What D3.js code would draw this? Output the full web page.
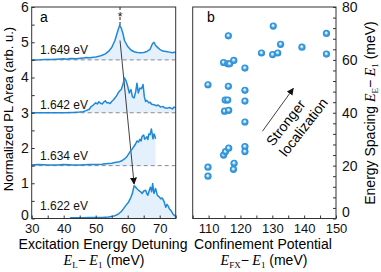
<!DOCTYPE html>
<html><head><meta charset="utf-8">
<script src="https://cdn.jsdelivr.net/npm/d3@7"></script>
<style>
html,body{margin:0;padding:0;background:#fff;}
svg{display:block;font-family:"Liberation Sans",Arial,sans-serif;}
</style></head>
<body>
<script>
// ---------- Panel a data ----------
const spectraLabels = ["1.649 eV","1.642 eV","1.634 eV","1.622 eV"];
const spectraOffsets = [4.5, 3.0, 1.5, 0];
const spec1649X = [30,32,34,36,38,40,41,42,44,46,47,48,50,51,52,53,54,55,56,57,57.5,58,58.5,59,60,61,62,63,64,65,66,67,67.7,68.2,68.8,69.5,70,71,72,73,74,74.5,75];
const spec1649Y = [4.50,4.50,4.51,4.51,4.52,4.53,4.52,4.54,4.53,4.55,4.57,4.56,4.58,4.60,4.63,4.67,4.74,4.85,5.05,5.35,5.48,5.40,5.25,5.05,4.88,4.78,4.73,4.71,4.70,4.71,4.74,4.80,4.95,5.00,4.90,4.84,4.80,4.75,4.74,4.72,4.70,4.72,4.70];
const spec1642X = [30,35,40,43,45,46,47,48,48.5,49,49.5,50,50.5,51,51.5,52,52.5,53,53.5,54,54.5,55,55.5,56,56.5,57,57.5,58,58.5,59,59.5,60,60.5,61,61.5,62,62.5,62.9,63.3,63.8,64.3,64.8,65.2,65.6,66,66.6,67,67.5,68.2,69,69.5,70.3,71,71.5,72.4,73,74,74.5,75];
const spec1642Y = [3.0,3.0,3.0,3.01,3.02,3.03,3.06,3.10,3.17,3.20,3.24,3.28,3.25,3.31,3.27,3.25,3.30,3.34,3.28,3.29,3.26,3.32,3.36,3.42,3.48,3.56,3.62,3.66,3.80,3.99,3.90,3.75,3.56,3.66,3.45,3.42,3.60,3.84,3.56,3.70,3.68,3.80,3.45,3.32,3.35,3.28,3.30,3.24,3.23,3.20,3.22,3.16,3.18,3.14,3.13,3.15,3.11,3.16,3.14];
const spec1634X = [30,32,35,38,40,43,45,48,50,52,53,54,55,56,57,58,59,59.7,60.5,61,61.5,62,62.5,62.9,63.4,63.8,64.2,64.5,65,65.3,65.6,66,66.3,66.6,67,67.4,67.9,68.2,68.5,68.7];
const spec1634Y = [1.52,1.53,1.52,1.52,1.53,1.52,1.52,1.53,1.53,1.54,1.55,1.56,1.57,1.59,1.60,1.63,1.69,1.75,1.86,1.93,1.98,2.05,2.12,2.20,2.17,2.25,2.20,2.33,2.37,2.25,2.28,2.32,2.24,2.40,2.38,2.54,2.26,2.40,2.34,2.26];
const spec1622X = [42,44,46,48,50,52,54,55,56,57,58,58.7,59.5,60.3,61,61.5,62,62.4,62.8,63.4,64,64.5,65,65.6,66,66.3,66.7,67.1,67.5,67.8,68.2,68.7,69.3,69.8,70.3,70.8,71.4,71.9,72.3,72.6,73,73.5,74,74.3,74.7,75];
const spec1622Y = [0.02,0.02,0.02,0.03,0.03,0.03,0.04,0.06,0.08,0.12,0.20,0.28,0.38,0.47,0.60,0.72,0.93,0.90,0.85,0.80,0.76,0.71,0.78,0.80,0.70,0.66,0.78,0.89,0.76,0.99,0.71,0.85,0.65,0.62,0.56,0.58,0.47,0.32,0.40,0.36,0.28,0.23,0.15,0.11,0.08,0.06];
const xTicksA = [30,35,40,45,50,55,60,65,70,75];
const yTicksA = [0,0.5,1,1.5,2,2.5,3,3.5,4,4.5,5,5.5,6];
const starX = 57.6;
const arrowAFrom = [57.6, 5.05];
const arrowATo = [62.0, 0.98];

// ---------- Panel b data ----------
const confX = [116.2,130.3,147.0,132.6,139.3,126.6,130.1,131.7,147.0,114.7,116.0,116.6,117.9,121.4,109.8,116.2,121.4,115.2,116.0,121.4,115.0,116.3,121.4,114.7,115.3,116.3,121.4,121.4,118.0,117.8,109.8,109.8];
const spacingY = [69.1,72.8,70.0,65.9,64.8,62.6,62.0,62.6,62.2,59.0,58.5,58.5,59.8,56.9,50.6,50.0,48.5,44.8,44.8,44.4,40.6,40.9,36.5,24.0,25.3,26.6,27.2,25.3,20.9,18.6,19.4,16.0];
const xTicksB = [105,110,115,120,125,130,135,140,145,150];
const yTicksB = [0,4,8,12,16,20,24,28,32,36,40,44,48,52,56,60,64,68,72,76,80];
const arrowBFrom = [126.9, 33.0];
const arrowBTo = [136.6, 49.2];

const W = 381, H = 272;
const BLUE = "#1f88d8";
const svg = d3.select("body").append("svg").attr("width", W).attr("height", H);
const defs = svg.append("defs");
const grad = defs.append("radialGradient").attr("id","ball").attr("cx","50%").attr("cy","50%").attr("r","50%").attr("fx","45%").attr("fy","40%");
grad.append("stop").attr("offset","0%").attr("stop-color","#ffffff");
grad.append("stop").attr("offset","28%").attr("stop-color","#bfe0f7");
grad.append("stop").attr("offset","55%").attr("stop-color","#3c9fe0");
grad.append("stop").attr("offset","100%").attr("stop-color","#2a8cd4");
defs.append("marker").attr("id","arr").attr("viewBox","0 0 10 10").attr("refX",9).attr("refY",5)
  .attr("markerWidth",7).attr("markerHeight",7).attr("markerUnits","userSpaceOnUse").attr("orient","auto")
  .append("path").attr("d","M0,0 L10,5 L0,10 z").attr("fill","#111");

const pTop = 7, pBottom = 218.5;
// ---------- Panel a ----------
const xA = d3.scaleLinear([30,75],[31.7,175.7]);
const yA = d3.scaleLinear([0,6],[pBottom, pTop]);
const gA = svg.append("g");

const spectra = [
  {x: spec1649X, y: spec1649Y},
  {x: spec1642X, y: spec1642Y},
  {x: spec1634X, y: spec1634Y},
  {x: spec1622X, y: spec1622Y}
];
spectra.forEach((s, i) => {
  const pts = s.x.map((v, j) => [v, s.y[j]]);
  const base = spectraOffsets[i];
  gA.append("path").datum(pts)
    .attr("d", d3.area().x(d => xA(d[0])).y0(yA(base)).y1(d => yA(d[1])))
    .attr("fill", "#e4f0fb");
});
spectraOffsets.slice(0,3).forEach(b => {
  gA.append("line").attr("x1", xA(30)).attr("x2", xA(75)).attr("y1", yA(b)).attr("y2", yA(b))
    .attr("stroke", "#8a8a8a").attr("stroke-width", 1).attr("stroke-dasharray", "4,3");
});
gA.append("line").attr("x1", xA(arrowAFrom[0])).attr("y1", yA(arrowAFrom[1]))
  .attr("x2", xA(arrowATo[0])).attr("y2", yA(arrowATo[1]))
  .attr("stroke", "#111").attr("stroke-width", 0.8).attr("marker-end", "url(#arr)");
spectra.forEach((s, i) => {
  const pts = s.x.map((v, j) => [v, s.y[j]]);
  gA.append("path").datum(pts)
    .attr("d", d3.line().x(d => xA(d[0])).y(d => yA(d[1])))
    .attr("fill", "none").attr("stroke", BLUE).attr("stroke-width", 1.5).attr("stroke-linejoin","round");
});
gA.append("line").attr("x1", xA(starX)).attr("x2", xA(starX)).attr("y1", pTop).attr("y2", 25)
  .attr("stroke", "#222").attr("stroke-width", 1).attr("stroke-dasharray", "3,2");
gA.append("rect").attr("x", xA(starX)-3).attr("y", 11).attr("width", 6).attr("height", 6).attr("fill","#fff");
gA.append("text").attr("x", xA(starX)).attr("y", 21).attr("text-anchor","middle")
  .attr("font-size", 12).attr("fill","#111").text("*");
const labelY = [54.3, 108.5, 160, 210];
spectraLabels.forEach((t, i) => {
  gA.append("text").attr("x", 40).attr("y", labelY[i]).attr("font-size", 12).attr("fill","#111").text(t);
});
gA.append("rect").attr("x", xA(30)).attr("y", pTop).attr("width", xA(75)-xA(30)).attr("height", pBottom-pTop)
  .attr("fill","none").attr("stroke","#333").attr("stroke-width",1);
gA.append("g").attr("class","xax").attr("transform", `translate(0,${pBottom})`)
  .call(d3.axisBottom(xA).tickValues(xTicksA).tickSizeInner(-3).tickSizeOuter(0).tickPadding(5)
    .tickFormat(d => d % 10 === 0 ? d : ""));
gA.append("g").attr("class","yax").attr("transform", `translate(${xA(30)},0)`)
  .call(d3.axisLeft(yA).tickValues(yTicksA).tickSizeInner(-3).tickSizeOuter(0).tickPadding(3)
    .tickFormat(d => Number.isInteger(d) ? d : ""));
gA.append("text").attr("x", 44).attr("y", 22).attr("font-size", 14).attr("text-anchor","middle").text("a");

// ---------- Panel b ----------
const xB = d3.scaleLinear([105,150],[192.7,336]);
const yB = d3.scaleLinear([0,80],[pBottom, pTop]);
const gB = svg.append("g");
gB.append("rect").attr("x", xB(105)).attr("y", pTop).attr("width", xB(150)-xB(105)).attr("height", pBottom-pTop)
  .attr("fill","none").attr("stroke","#333").attr("stroke-width",1);
gB.append("g").attr("class","xax").attr("transform", `translate(0,${pBottom})`)
  .call(d3.axisBottom(xB).tickValues(xTicksB).tickSizeInner(-3).tickSizeOuter(0).tickPadding(5)
    .tickFormat(d => d % 10 === 0 ? d : ""));
gB.append("g").attr("class","yax ryax").attr("transform", `translate(${xB(150)},0)`)
  .call(d3.axisRight(yB).tickValues(yTicksB).tickSizeInner(-3).tickSizeOuter(0).tickPadding(6)
    .tickFormat(d => d % 20 === 0 ? d : ""));
gB.selectAll("circle.pt").data(confX.map((v,i)=>[v, spacingY[i]])).join("circle")
  .attr("class","pt").attr("cx", d => xB(d[0])).attr("cy", d => yB(d[1])).attr("r", 3.6)
  .attr("fill","url(#ball)");
gB.append("line").attr("x1", xB(arrowBFrom[0])).attr("y1", yB(arrowBFrom[1]))
  .attr("x2", xB(arrowBTo[0])).attr("y2", yB(arrowBTo[1]))
  .attr("stroke", "#111").attr("stroke-width", 0.8).attr("marker-end", "url(#arr)");
gB.append("text").attr("transform","translate(273,147) rotate(-52)").attr("font-size",14).text("Stronger");
gB.append("text").attr("transform","translate(286,157.5) rotate(-52)").attr("font-size",14).text("localization");
gB.append("text").attr("x", 211).attr("y", 22).attr("font-size", 14).attr("text-anchor","middle").text("b");

svg.selectAll(".domain").remove();
svg.selectAll(".tick line").attr("stroke","#333");
svg.selectAll(".tick text").attr("fill","#111").attr("font-family",'"Liberation Sans",Arial,sans-serif');
svg.selectAll(".yax .tick text").attr("font-size", 14);
svg.selectAll(".xax .tick text").attr("font-size", 13);
// nudge the zero labels up a little so they don't collide with the x tick labels
svg.selectAll(".yax .tick").filter(d => d === 0).select("text").attr("dy", "0.1em");
svg.selectAll(".ryax .tick").filter(d => d === 0).select("text").attr("dy", "-0.12em");

function energyLabel(sel, sub1, sub2) {
  sel.append("tspan").attr("font-family","Liberation Serif").attr("font-style","italic").text("E");
  sel.append("tspan").attr("font-family","Liberation Serif").attr("font-size", 9).attr("dy", 3).text(sub1);
  sel.append("tspan").attr("dy", -3).text("\u2212");
  sel.append("tspan").attr("font-family","Liberation Serif").attr("font-style","italic").text(" E");
  sel.append("tspan").attr("font-family","Liberation Serif").attr("font-size", 9).attr("dy", 3).text(sub2);
  sel.append("tspan").attr("dy", -3).text(" (meV)");
}
svg.append("text").attr("x", 103).attr("y", 249).attr("text-anchor","middle").attr("font-size",14).text("Excitation Energy Detuning");
energyLabel(svg.append("text").attr("x", 104).attr("y", 264.5).attr("text-anchor","middle").attr("font-size",14), "L", "1");
svg.append("text").attr("x", 263).attr("y", 249).attr("text-anchor","middle").attr("font-size",14).text("Confinement Potential");
energyLabel(svg.append("text").attr("x", 264).attr("y", 264.5).attr("text-anchor","middle").attr("font-size",14), "FX", "1");
svg.append("text").attr("transform","translate(13,109) rotate(-90)").attr("text-anchor","middle").attr("font-size",13)
  .text("Normalized PL Area (arb. u.)");
const ry = svg.append("text").attr("transform","translate(375,113) rotate(-90)").attr("text-anchor","middle").attr("font-size",14);
ry.append("tspan").text("Energy Spacing  ");
energyLabel(ry, "E", "1");
</script>
</body></html>
